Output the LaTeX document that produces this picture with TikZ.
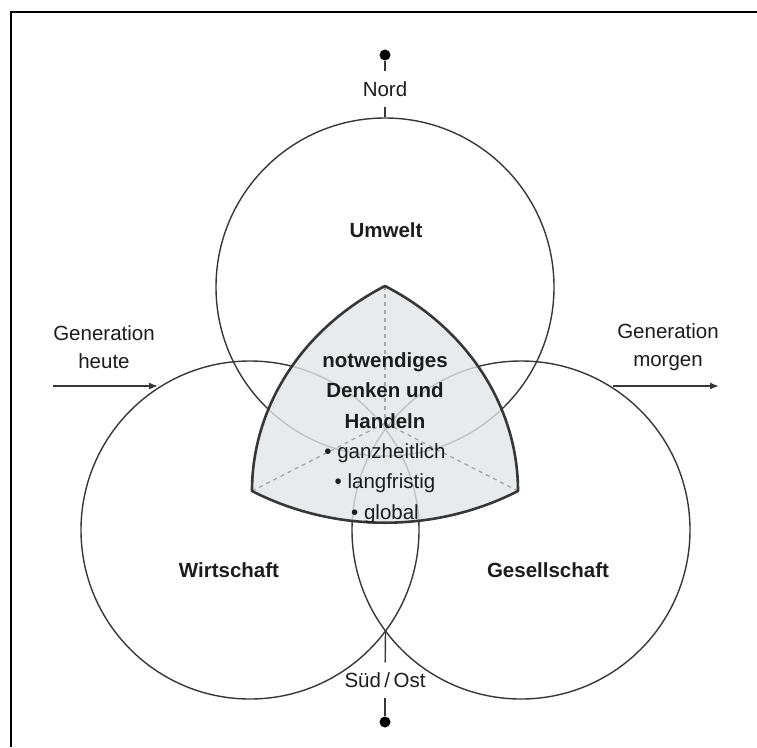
\documentclass[tikz,border=0pt]{standalone}
\usepackage{fontspec}
\setmainfont{Liberation Sans}
\usepackage{tikz}
\usetikzlibrary{positioning,arrows.meta}
\definecolor{linegray}{RGB}{55,55,55}
\definecolor{textgray}{RGB}{28,28,28}
\definecolor{corefill}{RGB}{226,230,232}
\tikzset{
	nachhaltigkeit/.style={
		x=1pt,y=-1pt,
		font=\fontsize{20.5}{30}\selectfont,
		text=textgray,
		every node/.style={inner sep=0pt}
	},
	venn circle/.style={
		circle,
		draw=linegray,
		line width=1.4pt,
		minimum size=338pt
	},
	region label/.style={
		font=\fontsize{20.5}{30}\selectfont\bfseries
	},
	core shape/.style={
		fill=corefill,
		fill opacity=0.8
	},
	core border/.style={
		draw=linegray,
		line width=2.6pt,
		line join=round
	},
	core ray/.style={
		draw=gray!70,
		line width=1.3pt,
		dash pattern=on 4pt off 4pt
	},
	core text/.style={
		align=center,
		font=\fontsize{20.5}{30.3}\selectfont
	},
	compass label/.style={
		inner ysep=10pt
	},
	pole dot/.style={
		circle,
		fill=black,
		minimum size=11pt
	},
	pole line/.style={
		draw=linegray,
		line width=1.4pt
	},
	generation label/.style={
		align=center,
		font=\fontsize{20.5}{28}\selectfont
	},
	time arrow/.style={
		draw=linegray,
		line width=1.4pt,
		-{Latex[length=9pt,width=7pt]}
	},
	frame line/.style={
		draw=black,
		line width=2.8pt
	}
}

\begin{document}
\begin{tikzpicture}[nachhaltigkeit]
	\useasboundingbox (0,0) rectangle (757,747);
	\draw[frame line] (11,747) -- (11,12) -- (757,12);

	% the three spheres
	\node[venn circle] (umweltkreis) at (385,287) {};
	\node[venn circle] (wirtschaftkreis) at (250,530) {};
	\node[venn circle] (gesellschaftkreis) at (521,530) {};
	\coordinate (schnitt) at (385.5,631);

	% core: squashed Reuleaux triangle
	\coordinate (kern top) at (385,286);
	\coordinate (kern links) at (252,491);
	\coordinate (kern rechts) at (518,491);
	\coordinate (kern mitte) at (385,423);
	\path[core shape] (kern links)
		arc[start angle=120,end angle=60,x radius=266,y radius=236.7]
		arc[start angle=360,end angle=300,x radius=266,y radius=236.7]
		arc[start angle=240,end angle=180,x radius=266,y radius=236.7] -- cycle;
	\draw[core ray] (kern top) -- (kern mitte);
	\draw[core ray] (kern links) -- (kern mitte);
	\draw[core ray] (kern rechts) -- (kern mitte);
	\draw[core border] (kern links)
		arc[start angle=120,end angle=60,x radius=266,y radius=236.7]
		arc[start angle=360,end angle=300,x radius=266,y radius=236.7]
		arc[start angle=240,end angle=180,x radius=266,y radius=236.7] -- cycle;

	\node[region label] (umwelt) at (386,230) {Umwelt};
	\node[region label] (wirtschaft) at (229,570) {Wirtschaft};
	\node[region label] (gesellschaft) at (548,570) {Gesellschaft};
	\node[core text] (kerntext) at (385,438) {\textbf{notwendiges}\\\textbf{Denken und}\\\textbf{Handeln}\\• ganzheitlich\\• langfristig\\• global};

	% north / south axis
	\node[pole dot] (nordpol) at (385,55) {};
	\node[compass label] (nord) at (385,89) {Nord};
	\draw[pole line] (nordpol) -- (nord);
	\draw[pole line] (nord) -- (umweltkreis.north);
	\node[compass label] (sued) at (385,680) {Süd\,/\,Ost};
	\node[pole dot] (suedpol) at (385,722) {};
	\draw[pole line] (schnitt) -- (sued);
	\draw[pole line] (sued) -- (suedpol);

	% generations
	\node[generation label] (heute) at (104,347) {Generation\\heute};
	\coordinate (heute start) at (53,386);
	\coordinate (heute ende) at (158,386);
	\draw[time arrow] (heute start) -- (heute ende);
	\node[generation label] (morgen) at (668,347) {Generation\\morgen};
	\coordinate (morgen start) at (613,386);
	\coordinate (morgen ende) at (719,386);
	\draw[time arrow] (morgen start) -- (morgen ende);
\end{tikzpicture}
\end{document}
